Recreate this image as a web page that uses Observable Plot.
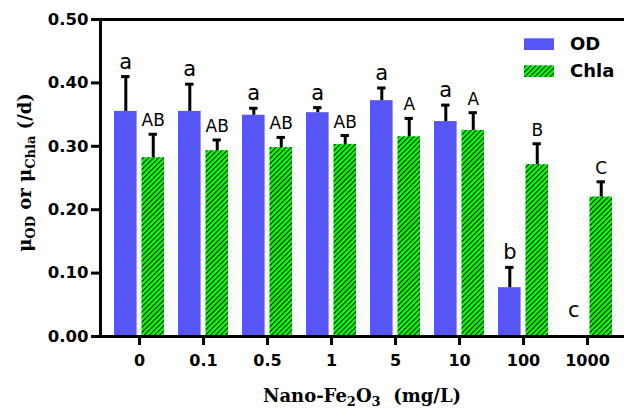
<!DOCTYPE html>
<html><head><meta charset="utf-8">
<script src="https://cdn.jsdelivr.net/npm/d3@7"></script>
<script src="https://cdn.jsdelivr.net/npm/@observablehq/plot@0.6"></script>
<style>body{margin:0;background:#fff}</style>
</head><body><div id="chart"></div>
<script>
const concentrations = ["0","0.1","0.5","1","5","10","100","1000"];
const odValues   = [0.355,0.355,0.349,0.353,0.372,0.339,0.077,0];
const odErrors   = [0.055,0.043,0.011,0.008,0.020,0.026,0.032,0];
const odLetters  = ["a","a","a","a","a","a","b","c"];
const chlaValues = [0.282,0.293,0.298,0.303,0.315,0.325,0.271,0.220];
const chlaErrors = [0.037,0.017,0.016,0.014,0.029,0.028,0.033,0.024];
const chlaLetters= ["AB","AB","AB","AB","A","A","B","C"];
const yTicks = [0,0.1,0.2,0.3,0.4,0.5];
const seriesNames = ["OD","Chla"];

const blue = "#5656F6";
const od = concentrations.map((c,i)=>({conc:c, value:odValues[i], err:odErrors[i], letter:odLetters[i]}));
const chla = concentrations.map((c,i)=>({conc:c, value:chlaValues[i], err:chlaErrors[i], letter:chlaLetters[i]}));

const svg = Plot.plot({
  width:624, height:408,
  marginLeft:100, marginRight:0, marginTop:19, marginBottom:72,
  style:{background:"#fff", color:"#000", overflow:"visible"},
  x:{domain:concentrations, padding:0, insetLeft:4, insetRight:3},
  y:{domain:[0,0.5]},
  marks:[
    Plot.barY(od, {x:"conc", y:"value", fill:blue, insetLeft:7, insetRight:34.4}),
    Plot.barY(chla, {x:"conc", y:"value", fill:"url(#hatch)", insetLeft:34.5, insetRight:7}),
    Plot.ruleX(od.filter(d=>d.err>0), {x:"conc", y1:"value", y2:d=>d.value+d.err, dx:-13.7, stroke:"#000", strokeWidth:3}),
    Plot.tickY(od.filter(d=>d.err>0), {x:"conc", y:d=>d.value+d.err, insetLeft:14.1, insetRight:41.5, stroke:"#000", strokeWidth:3}),
    Plot.ruleX(chla, {x:"conc", y1:"value", y2:d=>d.value+d.err, dx:13.75, stroke:"#000", strokeWidth:3}),
    Plot.tickY(chla, {x:"conc", y:d=>d.value+d.err, insetLeft:41.55, insetRight:14.1, stroke:"#000", strokeWidth:3}),
    Plot.text(od, {x:"conc", y:d=>Math.max(d.value+d.err, 0.018), text:"letter", dx:-13.7, dy:-8, lineAnchor:"bottom", fontSize:21, fontFamily:"DejaVu Sans"}),
    Plot.text(chla, {x:"conc", y:d=>d.value+d.err, text:"letter", dx:13.75, dy:-8, lineAnchor:"bottom", fontSize:17, fontFamily:"DejaVu Sans"}),
    Plot.ruleY([0], {stroke:"#000", strokeWidth:3}),
    Plot.ruleY([0.5], {stroke:"#000", strokeWidth:3}),
    Plot.frame({anchor:"left", stroke:"#000", strokeWidth:3}),
    Plot.axisY(yTicks, {tickFormat:d=>d.toFixed(2), tickSize:9, tickPadding:3, strokeWidth:3, fontSize:16.5, fontWeight:"bold", fontFamily:"DejaVu Sans", label:null}),
    Plot.axisX({tickSize:9, tickPadding:9, strokeWidth:3, fontSize:16, fontWeight:"bold", fontFamily:"DejaVu Sans", label:null})
  ]
});
document.getElementById("chart").append(svg);

const s = d3.select(svg);
const defs = s.insert("defs", ":first-child");
const pat = defs.append("pattern").attr("id","hatch").attr("patternUnits","userSpaceOnUse")
  .attr("width",3.6).attr("height",3.6).attr("patternTransform","rotate(-45)");
pat.append("rect").attr("width",3.6).attr("height",3.6).attr("fill","#00FF00");
pat.append("rect").attr("width",3.6).attr("height",1.0).attr("fill","#000");

// axis titles
const xt = s.append("text").attr("x",362).attr("y",401.5).attr("text-anchor","middle")
  .attr("font-family","DejaVu Serif").attr("font-weight","bold").attr("font-size",18)
  .style("white-space","pre").attr("fill","#000");
xt.append("tspan").text("Nano-Fe");
xt.append("tspan").attr("dy",4).attr("font-size",13).text("2");
xt.append("tspan").attr("dy",-4).text("O");
xt.append("tspan").attr("dy",4).attr("font-size",13).text("3");
xt.append("tspan").attr("dy",-4).text("  (mg/L)");

const yt = s.append("text").attr("transform","translate(31,172.5) rotate(-90)").attr("text-anchor","middle")
  .attr("font-family","DejaVu Serif").attr("font-weight","bold").attr("font-size",18)
  .style("white-space","pre").attr("fill","#000");
yt.append("tspan").text("μ");
yt.append("tspan").attr("dy",4).attr("font-size",13).text("OD");
yt.append("tspan").attr("dy",-4).text(" or μ");
yt.append("tspan").attr("dy",4).attr("font-size",13).text("Chla");
yt.append("tspan").attr("dy",-4).text(" (/d)");

// legend
const lg = s.append("g");
[[blue,38.3,50],["url(#hatch)",65.3,77]].forEach(([fill,y,base],i)=>{
  lg.append("rect").attr("x",524).attr("y",y).attr("width",30).attr("height",11.7).attr("fill",fill);
  lg.append("text").attr("x",570).attr("y",base).attr("text-anchor","start").attr("font-family","DejaVu Sans").attr("font-weight","bold")
    .attr("font-size",18).attr("fill","#000").text(seriesNames[i]);
});
</script>
</body></html>
